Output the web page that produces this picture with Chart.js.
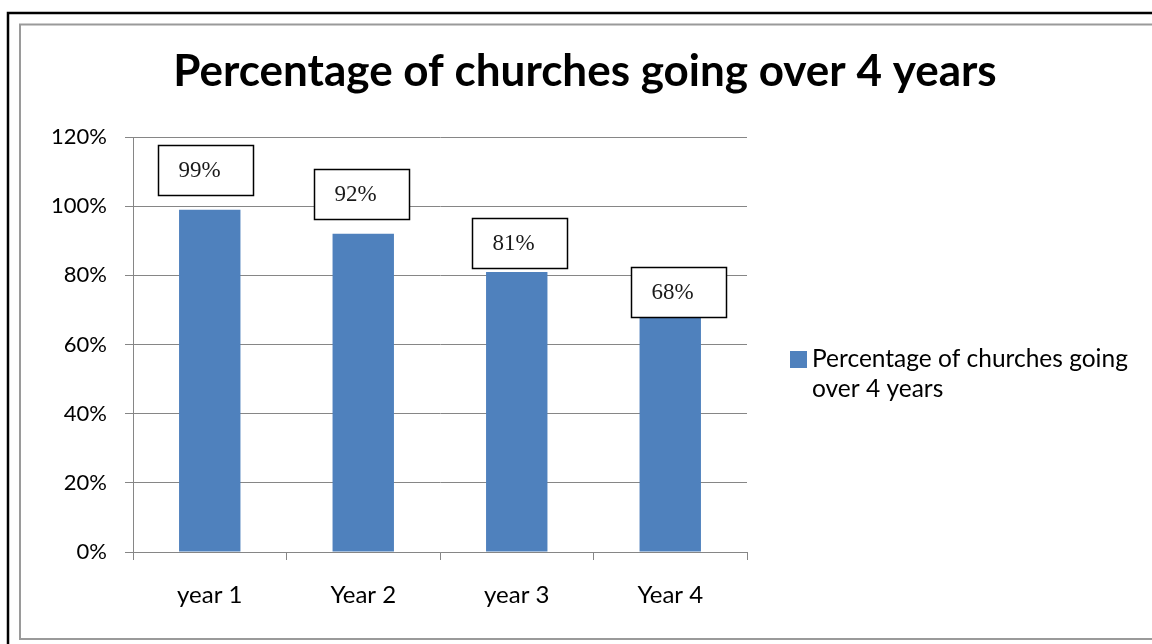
<!DOCTYPE html>
<html>
<head>
<meta charset="utf-8">
<script src="https://cdn.jsdelivr.net/npm/chart.js@4.4.1/dist/chart.umd.min.js"></script>
<style>
  html, body { margin: 0; padding: 0; background: #ffffff; overflow: hidden; }
  #wrap { width: 1152px; height: 644px; position: relative; overflow: hidden; }
  canvas { display: block; }
</style>
</head>
<body>
<div id="wrap"><canvas id="c" width="1152" height="644"></canvas></div>
<script>
// ---- data ----
const chartTitle = 'Percentage of churches going over 4 years';
const seriesName = 'Percentage of churches going over 4 years';
const categories = ['year 1', 'Year 2', 'year 3', 'Year 4'];
const values = [99, 92, 81, 68];            // percent
const yTicks = [0, 20, 40, 60, 80, 100, 120]; // percent

// ---- style (not data) ----
const BAR_COLOR = '#4F81BD';
const GRID_COLOR = '#868686';
const SANS = 'Lato, "Open Sans", sans-serif';
const SERIF = '"Liberation Serif", "DejaVu Serif", serif';
// label box nudges [dx, gap above bar]
const labelNudges = [[-4, 15], [-2, 15], [3, 4], [8, 0]];

const framePlugin = {
  id: 'frame',
  beforeDraw(chart) {
    const ctx = chart.ctx;
    ctx.save();
    ctx.fillStyle = '#ffffff';
    ctx.fillRect(0, 0, chart.width, chart.height);
    // outer black frame (left and top edges visible)
    ctx.strokeStyle = '#000000';
    ctx.lineWidth = 2.5;
    ctx.beginPath();
    ctx.moveTo(8, chart.height + 5);
    ctx.lineTo(8, 13);
    ctx.lineTo(chart.width + 5, 13);
    ctx.stroke();
    // inner gray frame (left, top, bottom edges visible)
    ctx.strokeStyle = '#9a9a9a';
    ctx.lineWidth = 2;
    ctx.beginPath();
    ctx.moveTo(chart.width + 5, 24.5);
    ctx.lineTo(20, 24.5);
    ctx.lineTo(20, 639);
    ctx.lineTo(chart.width + 5, 639);
    ctx.stroke();
    // title
    ctx.fillStyle = '#000000';
    ctx.font = 'bold 44px ' + SANS;
    ctx.textAlign = 'center';
    ctx.textBaseline = 'alphabetic';
    ctx.fillText(chartTitle, 585, 86);
    ctx.restore();
  },
  afterDraw(chart) {
    const ctx = chart.ctx;
    const meta = chart.getDatasetMeta(0);
    ctx.save();
    // data label boxes
    meta.data.forEach((bar, i) => {
      const w = 95, h = 50;
      const [dx, gap] = labelNudges[i];
      const cx = bar.x + dx;
      const top = bar.y - gap - h;
      const left = Math.round(cx - w / 2) + 0.5;
      ctx.fillStyle = '#ffffff';
      ctx.fillRect(left, Math.round(top) + 0.5, w, h);
      ctx.strokeStyle = '#000000';
      ctx.lineWidth = 1.5;
      ctx.strokeRect(left, Math.round(top) + 0.5, w, h);
      ctx.fillStyle = '#1a1a1a';
      ctx.font = '23px ' + SERIF;
      ctx.textAlign = 'left';
      ctx.textBaseline = 'alphabetic';
      ctx.fillText(values[i] + '%', left + 20, top + 32);
    });
    // legend
    const lx = 790, ly = 351;
    ctx.fillStyle = BAR_COLOR;
    ctx.fillRect(lx, ly, 17, 17);
    ctx.fillStyle = '#000000';
    ctx.font = '24.5px ' + SANS;
    ctx.textAlign = 'left';
    ctx.textBaseline = 'alphabetic';
    const words = chart.data.datasets[0].label.split(' ');
    const lines = [];
    let cur = '';
    words.forEach(wd => {
      const test = cur ? cur + ' ' + wd : wd;
      if (ctx.measureText(test).width > 330 && cur) { lines.push(cur); cur = wd; }
      else cur = test;
    });
    if (cur) lines.push(cur);
    lines.forEach((ln, k) => ctx.fillText(ln, 812, 367 + k * 30));
    ctx.restore();
  }
};

new Chart(document.getElementById('c'), {
  type: 'bar',
  data: {
    labels: categories,
    datasets: [{
      label: seriesName,
      data: values,
      backgroundColor: BAR_COLOR,
      borderWidth: 0,
      categoryPercentage: 1.0,
      barPercentage: 0.4
    }]
  },
  options: {
    responsive: false,
    animation: false,
    devicePixelRatio: 1,
    layout: { padding: { top: 137, right: 405, left: 0, bottom: 0 } },
    plugins: { legend: { display: false }, title: { display: false }, tooltip: { enabled: false } },
    scales: {
      x: {
        offset: true,
        afterFit(s) { s.height = 92; },
        grid: { offset: true, drawOnChartArea: false, drawTicks: true, tickLength: 8, color: GRID_COLOR, lineWidth: 1 },
        border: { display: true, color: GRID_COLOR, width: 1 },
        ticks: { color: '#000000', font: { family: SANS, size: 24 }, padding: 21 }
      },
      y: {
        min: 0, max: 120,
        afterFit(s) { s.width = 133; },
        afterBuildTicks(s) { s.ticks = yTicks.map(v => ({ value: v })); },
        grid: { color: GRID_COLOR, lineWidth: 1, tickLength: 8, drawTicks: true },
        border: { display: true, color: GRID_COLOR, width: 1 },
        ticks: { color: '#000000', font: { family: SANS, size: 22 }, padding: 18, callback: v => v + '%' }
      }
    }
  },
  plugins: [framePlugin]
});
</script>
</body>
</html>
